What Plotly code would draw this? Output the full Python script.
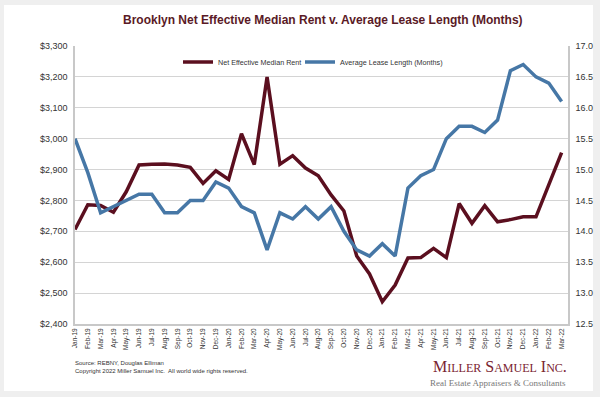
import plotly.graph_objects as go

months = ["Jan-19","Feb-19","Mar-19","Apr-19","May-19","Jun-19","Jul-19","Aug-19","Sep-19","Oct-19","Nov-19","Dec-19",
          "Jan-20","Feb-20","Mar-20","Apr-20","May-20","Jun-20","Jul-20","Aug-20","Sep-20","Oct-20","Nov-20","Dec-20",
          "Jan-21","Feb-21","Mar-21","Apr-21","May-21","Jun-21","Jul-21","Aug-21","Sep-21","Oct-21","Nov-21","Dec-21",
          "Jan-22","Feb-22","Mar-22"]

rent = [2706, 2786, 2784, 2762, 2828, 2915, 2917, 2918, 2915, 2907, 2855, 2896,
        2868, 3016, 2916, 3200, 2917, 2945, 2905, 2880, 2818, 2766, 2620, 2562,
        2472, 2526, 2614, 2615, 2645, 2615, 2790, 2726, 2783, 2731, 2738, 2747,
        2747, 2850, 2955]

lease = [15.5, 14.95, 14.3, 14.4, 14.5, 14.6, 14.6, 14.3, 14.3, 14.5, 14.5, 14.8,
         14.7, 14.4, 14.3, 13.7, 14.3, 14.2, 14.4, 14.2, 14.4, 14.0, 13.7, 13.6,
         13.8, 13.6, 14.7, 14.9, 15.0, 15.5, 15.7, 15.7, 15.6, 15.8, 16.6, 16.7,
         16.5, 16.4, 16.1]

rent_ticks = list(range(2400, 3301, 100))
lease_ticks = [12.5, 13.0, 13.5, 14.0, 14.5, 15.0, 15.5, 16.0, 16.5, 17.0]

RED = "#5b0f1f"
BLUE = "#4677a6"

fig = go.Figure()
fig.add_trace(go.Scatter(x=months, y=rent, name="Net Effective Median Rent", mode="lines",
                         line=dict(color=RED, width=3.5), yaxis="y", legend="legend"))
fig.add_trace(go.Scatter(x=months, y=lease, name="Average Lease Length (Months)", mode="lines",
                         line=dict(color=BLUE, width=3.5), yaxis="y2", legend="legend2"))

L, R, T, B = 75, 32, 46, 73
W, H = 600, 397
pw, ph = W - L - R, H - T - B

def px(xp):
    return (xp - L) / pw

def py(yp):
    return (H - B - yp) / ph

legend_common = dict(orientation="h", y=py(62), xanchor="left", yanchor="middle",
                     font=dict(size=7.2, color="#333333"), itemwidth=30,
                     bgcolor="rgba(0,0,0,0)")

fig.update_layout(
    width=W, height=H,
    margin=dict(l=L, r=R, t=T, b=B, autoexpand=False),
    paper_bgcolor="#efefef",
    plot_bgcolor="white",
    font=dict(family="Liberation Sans, Arial", color="#333333"),
    title=dict(text="<b>Brooklyn Net Effective Median Rent v. Average Lease Length (Months)</b>",
               font=dict(size=12, color="#5a1a26"), x=0.538, xanchor="center", y=0.95, yanchor="middle"),
    showlegend=True,
    legend=dict(x=px(178), **legend_common),
    legend2=dict(x=px(300), **legend_common),
    xaxis=dict(type="category", range=[0, 38.5], tickangle=-90, tickfont=dict(size=6.5),
               showgrid=False, showline=True, linecolor="#c8c8c8", linewidth=1.5, ticks="",
               mirror=False, zeroline=False),
    yaxis=dict(range=[2400, 3300], tickvals=rent_ticks,
               ticktext=["${:,}".format(v) for v in rent_ticks],
               tickfont=dict(size=9, color="#333333"), showgrid=True, gridcolor="#d4d4d4",
               gridwidth=1, showline=True, linecolor="#c8c8c8", linewidth=1.5, zeroline=False,
               ticks="", ticklabelstandoff=4),
    yaxis2=dict(range=[12.5, 17.0], tickvals=lease_ticks,
                ticktext=["{:.1f}".format(v) for v in lease_ticks],
                overlaying="y", side="right", showgrid=False, showline=True,
                linecolor="#c8c8c8", linewidth=1.5, zeroline=False,
                tickfont=dict(size=9, color="#333333"), ticks="", ticklabelstandoff=4),
    shapes=[
        dict(type="rect", xref="paper", yref="paper", x0=px(4), x1=px(593), y0=py(391), y1=py(5),
             fillcolor="white", line=dict(width=0), layer="below"),
    ],
    annotations=[
        dict(text="Source: REBNY, Douglas Elliman", xref="paper", yref="paper",
             x=px(73), y=py(363), xanchor="left", yanchor="middle", showarrow=False,
             font=dict(size=6, color="#333333")),
        dict(text="Copyright 2022 Miller Samuel Inc.  All world wide rights reserved.", xref="paper", yref="paper",
             x=px(73), y=py(371), xanchor="left", yanchor="middle", showarrow=False,
             font=dict(size=6, color="#333333")),
        dict(text="M<span style='font-size:12px'>ILLER</span> S<span style='font-size:12px'>AMUEL</span> I<span style='font-size:12px'>NC</span>.",
             xref="paper", yref="paper",
             x=px(569), y=py(366), xanchor="right", yanchor="middle", showarrow=False,
             font=dict(size=16, color="#7a2430", family="Liberation Serif, Times New Roman")),
        dict(text="Real Estate Appraisers &amp; Consultants", xref="paper", yref="paper",
             x=px(568), y=py(383), xanchor="right", yanchor="middle", showarrow=False,
             font=dict(size=9, color="#777777", family="Liberation Serif, Times New Roman")),
    ],
)

fig.write_html("out.html", config={"displayModeBar": False},
               post_script="document.body.style.margin='0';document.body.style.background='#efefef';")
